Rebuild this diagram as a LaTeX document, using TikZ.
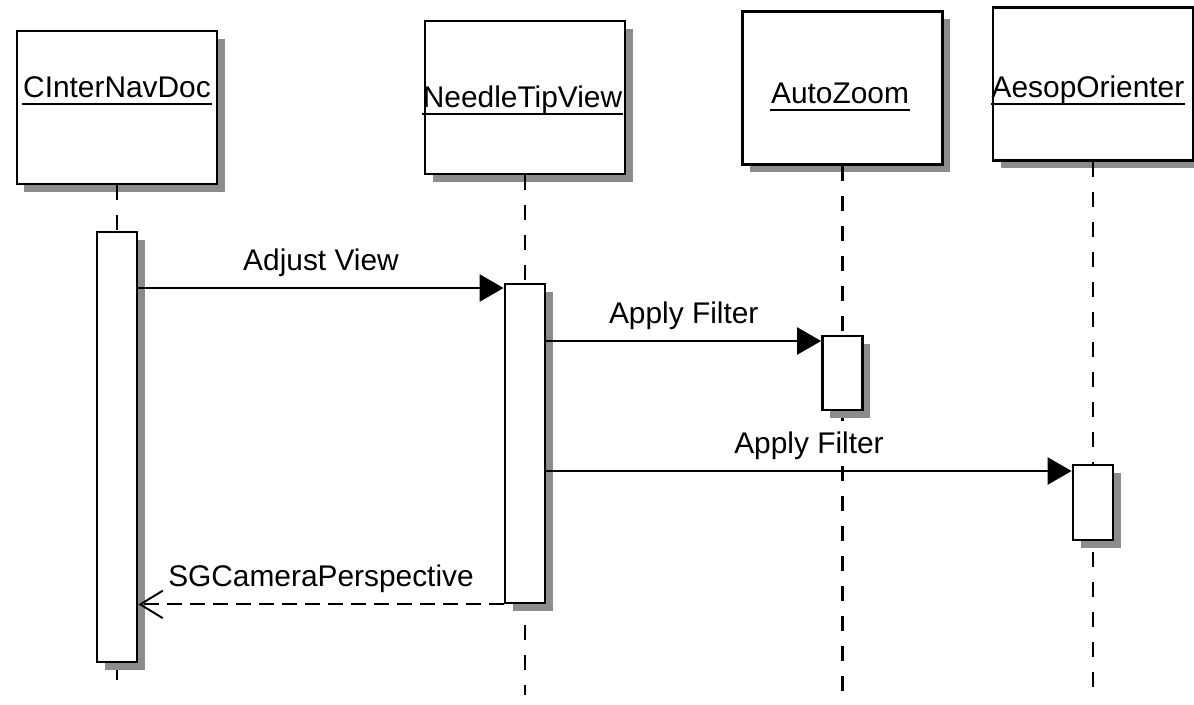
\documentclass[tikz,border=0pt]{standalone}
\usepackage{fontspec}
\setmainfont{Liberation Sans}
\usetikzlibrary{arrows.meta,shadows}

\begin{document}
\begin{tikzpicture}[thick,
    shade/.style={drop shadow={shadow xshift=0.15cm,shadow yshift=-0.15cm,fill=black!45,opacity=1}},
    obj/.style={draw,line width=1.6pt,fill=white,minimum width=4cm,minimum height=3.06cm,shade},
    act/.style={draw,line width=1.6pt,fill=white,minimum width=0.8cm,shade},
    title/.style={inner sep=0pt,anchor=base,font=\fontsize{17}{20}\selectfont},
    msg/.style={fill=white,inner sep=1pt,font=\fontsize{17}{20}\selectfont},
    life/.style={line width=1.4pt,dash pattern=on 0.3cm off 0.3cm},
    call/.style={line width=1.4pt,-{Triangle[length=0.48cm,width=0.54cm]}},
    reply/.style={line width=1.1pt,dash pattern=on 0.3cm off 0.16cm,-{Straight Barb[length=0.45cm,width=0.55cm]}}]
    \useasboundingbox (0,0) rectangle (23.88,-14.08);
    \node[obj] (doc) at (2.34,-2.15) {};
    \node[obj] (tip) at (10.5,-1.95) {};
    \node[obj] (zoom) at (16.85,-1.76) {};
    \node[obj] (aesop) at (21.86,-1.68) {};
    \node[title] (docname) at (2.34,-1.94) {CInterNavDoc};
    \node[title] (tipname) at (10.45,-2.14) {NeedleTipView};
    \node[title] (zoomname) at (16.8,-2.06) {AutoZoom};
    \node[title] (aesopname) at (21.76,-1.94) {AesopOrienter};
    \foreach \n in {docname,tipname,zoomname,aesopname}
        \draw[line width=1.4pt] ([yshift=-0.14cm]\n.base west) -- ([yshift=-0.14cm]\n.base east);
    \coordinate (docend) at (2.34,-13.9);
    \coordinate (tipend) at (10.5,-13.9);
    \coordinate (zoomend) at (16.85,-13.9);
    \coordinate (aesopend) at (21.86,-13.9);
    \draw[life] (doc.south) -- (docend);
    \draw[life] (tip.south) -- (tipend);
    \draw[life] (zoom.south) -- (zoomend);
    \draw[life] (aesop.south) -- (aesopend);
    \node[act,minimum height=8.6cm] (a1) at (2.34,-8.94) {};
    \node[act,minimum height=6.38cm] (a2) at (10.5,-8.87) {};
    \node[act,minimum height=1.48cm] (a3) at (16.85,-7.46) {};
    \node[act,minimum height=1.5cm] (a4) at (21.86,-10.05) {};
    \draw[call] (a1.east |- 0,-5.76) -- (a2.west |- 0,-5.76) node[msg,midway,above=5pt] {Adjust View};
    \draw[call] (a2.east |- 0,-6.82) -- (a3.west |- 0,-6.82) node[msg,midway,above=5pt] {Apply Filter};
    \draw[call] (a2.east |- 0,-9.42) -- (a4.west |- 0,-9.42) node[msg,midway,above=5pt] {Apply Filter};
    \draw[reply] (a2.south west) -- (a1.east |- a2.south west) node[msg,midway,above=5pt] {SGCameraPerspective};
\end{tikzpicture}
\end{document}
